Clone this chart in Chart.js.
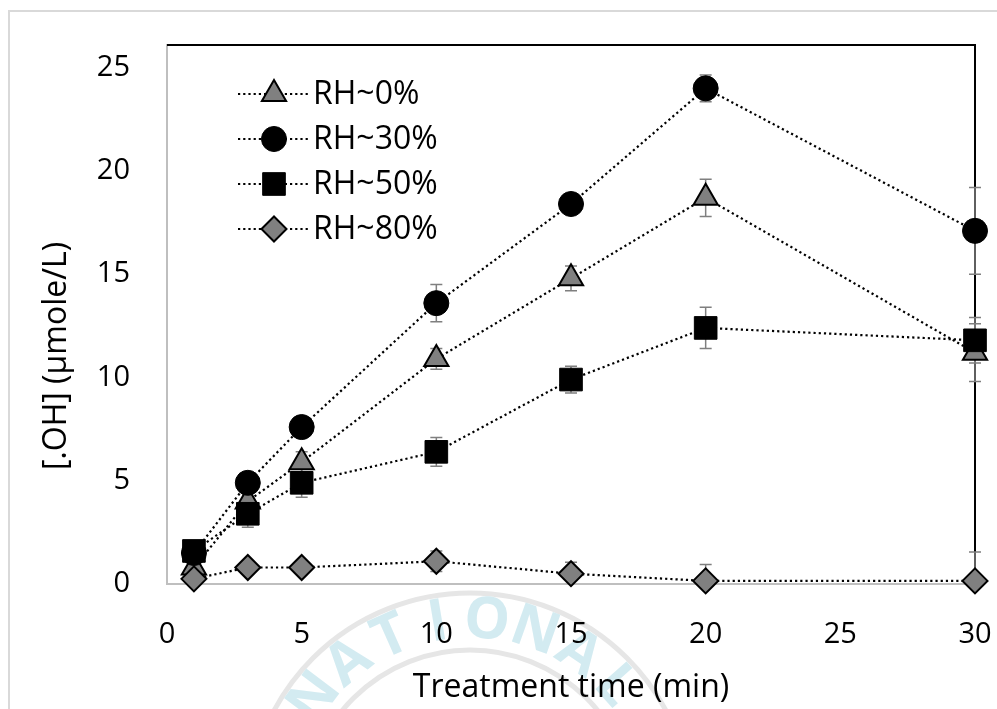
<!DOCTYPE html>
<html>
<head>
<meta charset="utf-8">
<script src="https://cdn.jsdelivr.net/npm/chart.js@4.4.1/dist/chart.umd.min.js"></script>
<style>
  html, body { margin: 0; padding: 0; background: #fff; }
  #wrap { width: 997px; height: 709px; }
</style>
</head>
<body>
<div id="wrap"><canvas id="chart" width="997" height="709"></canvas></div>
<script>
// treatment time (min)
const times = [1, 3, 5, 10, 15, 20, 30];

// [.OH] (umole/L) for each humidity
const rh0  = [0.8, 4.0, 5.9, 10.9, 14.8, 18.7, 11.2];
const rh30 = [1.5, 4.9, 7.6, 13.6, 18.4, 24.0, 17.1];
const rh50 = [1.6, 3.4, 4.9, 6.4, 9.9, 12.4, 11.8];
const rh80 = [0.25, 0.8, 0.8, 1.1, 0.5, 0.15, 0.15];

// error bars (+/-)
const err0  = [0.3, 0.4, 0.5, 0.5, 0.6, 0.9, 1.4];
const err30 = [0.3, 0.4, 0.4, 0.9, 0.3, 0.65, 2.1];
const err50 = [0.3, 0.65, 0.7, 0.7, 0.65, 1.0, 1.1];
const err80 = [0.2, 0.2, 0.2, 0.5, 0.55, 0.8, 1.4];

const seriesNames = ['RH~0%', 'RH~30%', 'RH~50%', 'RH~80%'];
const yTicks = [0, 5, 10, 15, 20, 25];

const FONT = '"Open Sans", "Noto Sans", sans-serif';

function makeSeries(label, values, errors, style, radius, fill, border, order) {
  return {
    label: label,
    data: times.map((t, i) => ({ x: t, y: values[i] })),
    errors: errors,
    borderColor: '#000',
    borderWidth: 2.2,
    borderDash: [2.2, 3],
    pointStyle: style,
    pointRadius: radius,
    pointHoverRadius: radius,
    pointBackgroundColor: fill,
    pointBorderColor: '#000',
    pointBorderWidth: border,
    clip: false,
    order: order
  };
}

const datasets = [
  makeSeries(seriesNames[0], rh0, err0, 'triangle', 14, '#808080', 2, 4),
  makeSeries(seriesNames[1], rh30, err30, 'circle', 12.5, '#000', 1, 3),
  makeSeries(seriesNames[2], rh50, err50, 'rect', 16, '#000', 1, 2),
  makeSeries(seriesNames[3], rh80, err80, 'rectRot', 12.5, '#808080', 2, 1)
];

// white background, outer frame and faint seal watermark
const backdrop = {
  id: 'backdrop',
  beforeDraw(chart) {
    const ctx = chart.ctx;
    ctx.save();
    ctx.fillStyle = '#fff';
    ctx.fillRect(0, 0, chart.width, chart.height);

    ctx.strokeStyle = '#d9d9d9';
    ctx.lineWidth = 2;
    ctx.beginPath();
    ctx.moveTo(9, chart.height);
    ctx.lineTo(9, 11);
    ctx.lineTo(chart.width, 11);
    ctx.stroke();

    const cx = 470, cy = 815;
    ctx.strokeStyle = '#e6e6e6';
    ctx.lineWidth = 5;
    ctx.beginPath(); ctx.arc(cx, cy, 222, 0, Math.PI * 2); ctx.stroke();
    ctx.beginPath(); ctx.arc(cx, cy, 165, 0, Math.PI * 2); ctx.stroke();

    ctx.fillStyle = '#d3ebf1';
    ctx.font = 'bold 58px ' + FONT;
    ctx.textAlign = 'center';
    ctx.textBaseline = 'middle';
    const word = 'NATIONAL';
    const letters = [['G', -166]].concat(word.split('').map((c, i) => [c, -143 + i * 14.5])).concat([['U', -20]]);
    letters.forEach(([c, deg]) => {
      const a = deg * Math.PI / 180;
      ctx.save();
      ctx.translate(cx + 194 * Math.cos(a), cy + 194 * Math.sin(a));
      ctx.rotate(a + Math.PI / 2);
      ctx.fillText(c, 0, 0);
      ctx.restore();
    });
    ctx.restore();
  }
};

// black top/right frame of the plot area + grey error bars
const frameAndErrors = {
  id: 'frameAndErrors',
  beforeDatasetsDraw(chart) {
    const { ctx, chartArea: a, scales: { x, y } } = chart;
    ctx.save();
    ctx.strokeStyle = '#000';
    ctx.lineWidth = 2;
    ctx.beginPath();
    ctx.moveTo(a.left, a.top);
    ctx.lineTo(a.right, a.top);
    ctx.lineTo(a.right, a.bottom);
    ctx.stroke();

    ctx.beginPath();
    ctx.rect(a.left, a.top, a.right - a.left + 10, a.bottom - a.top);
    ctx.clip();
    ctx.strokeStyle = '#7f7f7f';
    ctx.lineWidth = 1.5;
    chart.data.datasets.forEach(ds => {
      ds.data.forEach((p, i) => {
        const e = ds.errors[i];
        const px = x.getPixelForValue(p.x);
        const t = y.getPixelForValue(p.y + e);
        const b = y.getPixelForValue(p.y - e);
        ctx.beginPath();
        ctx.moveTo(px, t); ctx.lineTo(px, b);
        ctx.moveTo(px - 6, t); ctx.lineTo(px + 6, t);
        ctx.moveTo(px - 6, b); ctx.lineTo(px + 6, b);
        ctx.stroke();
      });
    });
    ctx.restore();
  }
};

// legend with dotted line and marker, plus y-axis title
const legendAndTitle = {
  id: 'legendAndTitle',
  afterDraw(chart) {
    const ctx = chart.ctx;
    ctx.save();
    chart.data.datasets.forEach((ds, i) => {
      const yy = 94 + i * 45;
      ctx.strokeStyle = '#000';
      ctx.lineWidth = 2;
      ctx.setLineDash(ds.borderDash);
      ctx.beginPath();
      ctx.moveTo(238, yy);
      ctx.lineTo(310, yy);
      ctx.stroke();
      ctx.setLineDash([]);
      ctx.fillStyle = ds.pointBackgroundColor;
      ctx.strokeStyle = ds.pointBorderColor;
      ctx.lineWidth = ds.pointBorderWidth;
      Chart.helpers.drawPoint(ctx, {
        pointStyle: ds.pointStyle,
        radius: ds.pointRadius,
        rotation: 0,
        borderWidth: ds.pointBorderWidth
      }, 274, yy);
      ctx.fillStyle = '#000';
      ctx.font = '32px ' + FONT;
      ctx.textAlign = 'left';
      ctx.textBaseline = 'middle';
      ctx.fillText(ds.label, 313, yy + 1);
    });

    ctx.translate(57, 356);
    ctx.rotate(-Math.PI / 2);
    ctx.font = '32px ' + FONT;
    ctx.textAlign = 'center';
    ctx.textBaseline = 'middle';
    ctx.fillStyle = '#000';
    ctx.fillText('[.OH] (µmole/L)', 0, 0);
    ctx.restore();
  }
};

new Chart(document.getElementById('chart'), {
  type: 'line',
  data: { datasets: datasets },
  plugins: [backdrop, frameAndErrors, legendAndTitle],
  options: {
    responsive: false,
    animation: false,
    layout: { padding: { left: 0, top: 45, right: 22, bottom: 0 } },
    plugins: { legend: { display: false }, tooltip: { enabled: false } },
    scales: {
      x: {
        type: 'linear',
        min: 0,
        max: 30,
        ticks: { stepSize: 5, color: '#000', font: { family: FONT, size: 29 }, padding: 33, maxRotation: 0 },
        grid: { display: false, drawTicks: false },
        border: { color: '#bfbfbf', width: 2 },
        title: {
          display: true,
          text: 'Treatment time (min)',
          color: '#000',
          font: { family: FONT, size: 32 },
          padding: { top: 0, bottom: 2 }
        },
        afterFit(s) {
          s.height = 125;
          s.paddingLeft = 0;
          s.paddingRight = 0;
        }
      },
      y: {
        min: 0,
        max: 26.1,
        afterBuildTicks(s) { s.ticks = yTicks.map(v => ({ value: v })); },
        ticks: { color: '#000', font: { family: FONT, size: 29 }, padding: 37 },
        grid: { display: false, drawTicks: false },
        border: { color: '#bfbfbf', width: 2 },
        afterFit(s) {
          s.width = 167;
          s.paddingTop = 0;
          s.paddingBottom = 0;
        }
      }
    }
  }
});
</script>
</body>
</html>
